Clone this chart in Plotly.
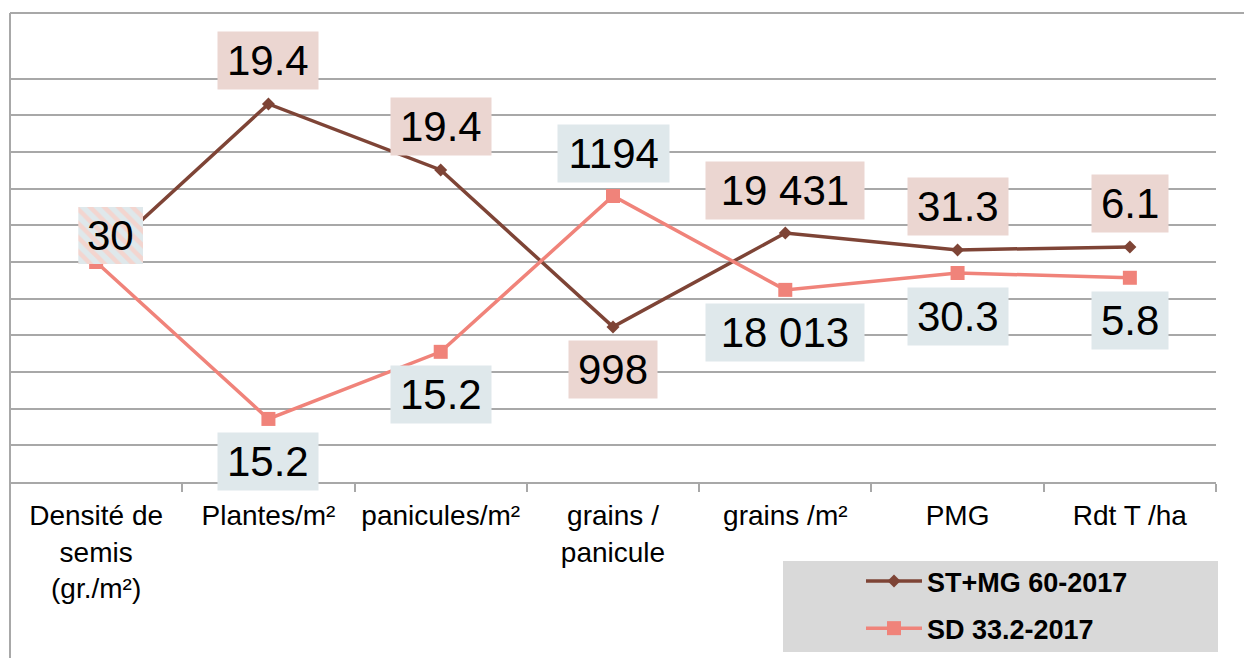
import plotly.graph_objects as go

# ---------------- data ----------------
categories = ["Densité de<br>semis<br>(gr./m²)", "Plantes/m²", "panicules/m²",
              "grains /<br>panicule", "grains /m²", "PMG", "Rdt T /ha"]
# relative (index) position of each point on the hidden vertical scale
st_mg_index = [6.0, 10.31, 8.51, 4.23, 6.79, 6.33, 6.41]
sd_index = [6.0, 1.72, 3.55, 7.80, 5.24, 5.70, 5.57]
# real values shown in the data labels
st_mg_labels = ["30", "19.4", "19.4", "998", "19 431", "31.3", "6.1"]
sd_labels = ["30", "15.2", "15.2", "1194", "18 013", "30.3", "5.8"]
series_names = ["ST+MG 60-2017", "SD 33.2-2017"]

# ---------------- layout constants ----------------
PAGE_OFF = 8                      # browser body margin
W, H = 1252 - PAGE_OFF, 658 - PAGE_OFF
PLOT_L, PLOT_R, PLOT_T, PLOT_B = 10, 1216, 42, 482   # window pixels
ML = PLOT_L - PAGE_OFF
MT = PLOT_T - PAGE_OFF
PW, PH = PLOT_R - PLOT_L, PLOT_B - PLOT_T
MR = W - ML - PW
MB = H - MT - PH
YMAX = 12
PX_Y = PH / YMAX
PX_X = PW / len(categories)

BROWN = "#7E4436"
PINK = "#F0837A"
BROWN_BG = "#EBD6D1"
PINK_BG = "#DFE8EB"
GRID = "#A8A8A8"
FONT = "Liberation Sans, Arial, sans-serif"
LBL_SIZE = 42
LBL_H = 57
PAD = 5

# which side of the point each label sits on (+1 above, -1 below, 0 shared)
st_side = [0, 1, 1, -1, 1, 1, 1]
sd_side = [0, -1, -1, 1, -1, -1, -1]
OFFSET = 43


def wx(px):
    """window x pixel -> paper x"""
    return (px - PLOT_L) / PW


def wy(py):
    """window y pixel -> paper y"""
    return (PLOT_B - py) / PH


CW = {"0": .556, "1": .556, "2": .556, "3": .556, "4": .556, "5": .556,
      "6": .556, "7": .556, "8": .556, "9": .556, ".": .278, " ": .55}


def box_w(t):
    return sum(CW.get(c, .556) for c in t) * LBL_SIZE + 18


fig = go.Figure()
fig.add_trace(go.Scatter(
    x=categories, y=st_mg_index, name="<b>" + series_names[0] + "</b>",
    mode="lines+markers", line=dict(color=BROWN, width=3.5),
    marker=dict(symbol="diamond", size=10, color=BROWN),
    legendgroup="a", hoverinfo="skip"))
fig.add_trace(go.Scatter(
    x=categories, y=sd_index, name="<b>" + series_names[1] + "</b>",
    mode="lines+markers", line=dict(color=PINK, width=3.5),
    marker=dict(symbol="square", size=14, color=PINK),
    legendgroup="b", hoverinfo="skip"))

annotations = []
for labels, vals, sides, bg in ((st_mg_labels, st_mg_index, st_side, BROWN_BG),
                                (sd_labels, sd_index, sd_side, PINK_BG)):
    for i, (t, v, s) in enumerate(zip(labels, vals, sides)):
        if s == 0:
            continue
        annotations.append(dict(
            x=i, y=v, xref="x", yref="y", text=t, showarrow=False,
            font=dict(family=FONT, size=LBL_SIZE, color="black"),
            bgcolor=bg, borderpad=PAD, width=box_w(t) - 2 * PAD,
            height=LBL_H - 2 * PAD, yshift=s * OFFSET,
            xanchor="center", yanchor="middle"))

# shared, hatched label on the first category (both series meet there)
shared_txt = st_mg_labels[0]
sx, sy = 14.5, 26.5
bw = box_w(shared_txt)
center_x = sx / PX_X
center_y = st_mg_index[0] + sy / PX_Y
fig.add_trace(go.Bar(
    x=[categories[0]], y=[LBL_H / PX_Y], base=[center_y - LBL_H / 2 / PX_Y],
    width=[bw / PX_X], offset=[center_x - bw / 2 / PX_X],
    xaxis="x2", yaxis="y2", showlegend=False, hoverinfo="skip",
    marker=dict(color=PINK_BG, line=dict(width=0),
                pattern=dict(shape="\\", fgcolor="#F3D5CF", bgcolor=PINK_BG,
                             size=10, solidity=0.45, fillmode="replace"))))
annotations.append(dict(
    x=0, y=st_mg_index[0], xref="x", yref="y", text=shared_txt, showarrow=False,
    font=dict(family=FONT, size=LBL_SIZE, color="black"),
    xshift=sx, yshift=sy, xanchor="center", yanchor="middle"))

shapes = [
    # legend background
    dict(type="rect", xref="paper", yref="paper", x0=wx(783), x1=wx(1218),
         y0=wy(652), y1=wy(561), fillcolor="#D9D9D9", line=dict(width=0),
         layer="below"),
    # chart border
    dict(type="line", xref="paper", yref="paper", x0=wx(10), x1=wx(1270),
         y0=wy(13), y1=wy(13), line=dict(color=GRID, width=2)),
    dict(type="line", xref="paper", yref="paper", x0=wx(10), x1=wx(10),
         y0=wy(13), y1=wy(680), line=dict(color=GRID, width=2)),
]

fig.update_layout(
    width=W, height=H,
    margin=dict(l=ML, r=MR, t=MT, b=MB, autoexpand=False),
    paper_bgcolor="white", plot_bgcolor="white",
    font=dict(family=FONT, color="black"),
    barmode="overlay",
    xaxis=dict(type="category", categoryarray=categories, range=[-0.5, 6.5],
               showgrid=False, showline=True, linecolor=GRID, linewidth=1.5,
               ticks="outside", ticklen=8, tickcolor=GRID, tickwidth=1.5,
               tickson="boundaries", tickfont=dict(size=28, color="black"),
               ticklabelstandoff=8, zeroline=False, fixedrange=True),
    yaxis=dict(range=[0, YMAX], dtick=1, tick0=0, showgrid=True, gridcolor=GRID,
               gridwidth=1.5, showticklabels=False, zeroline=False,
               showline=False, ticks="", fixedrange=True),
    xaxis2=dict(type="category", categoryarray=categories, range=[-0.5, 6.5],
                overlaying="x", visible=False, fixedrange=True),
    yaxis2=dict(range=[0, YMAX], overlaying="y", visible=False, fixedrange=True),
    legend=dict(x=wx(861), y=wy(557), xanchor="left", yanchor="top",
                xref="paper", yref="paper", bgcolor="rgba(0,0,0,0)",
                font=dict(size=27, color="black", family=FONT),
                tracegroupgap=9, itemwidth=56, traceorder="grouped"),
    annotations=annotations, shapes=shapes, showlegend=True,
)

fig.write_html("out.html")
